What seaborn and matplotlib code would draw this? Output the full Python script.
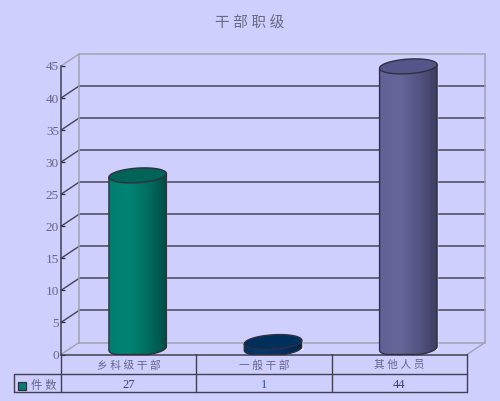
import matplotlib
matplotlib.use('Agg')
import matplotlib.pyplot as plt
import matplotlib.transforms as mtrans
from matplotlib.colors import LinearSegmentedColormap
from matplotlib.lines import Line2D
from matplotlib.patches import PathPatch, Polygon, Rectangle
from matplotlib.path import Path
import numpy as np
import seaborn as sns

# data
title = '干 部 职 级'
categories = ['乡 科 级 干 部', '一 般 干 部', '其 他 人 员']
values = [27, 1, 44]
series_name = '件 数'
y_ticks = [0, 5, 10, 15, 20, 25, 30, 35, 40, 45]

# colours
bg = '#CECEFF'
text_c = '#66668A'
dark = '#30303F'
wall = '#A2A2AE'
bar_base = ['#007F70', '#003366', '#62629A']
bar_light = ['#008474', '#003A70', '#666698']
bar_mid = ['#006E62', '#002F5E', '#555585']
bar_dark = ['#004D45', '#00254C', '#3D3D5E']
bar_top = ['#006358', '#002F5C', '#55558A']

W, H = 500, 401
sns.set_theme(style='white')
plt.rcParams['font.family'] = ['Liberation Serif', 'Noto Sans CJK SC']

fig = plt.figure(figsize=(W / 100, H / 100), dpi=100, facecolor=bg)
ax = fig.add_axes([61 / W, (H - 354.5) / H, 406 / W, 288.5 / H], facecolor='none')

sns.barplot(x=categories, y=values, hue=categories, palette=bar_base,
            width=0.425, legend=False, dodge=False, ax=ax)
ax.set_xlim(-0.5, 2.5)
ax.set_ylim(0, 45)

# 3d depth of the box, in pixels
depth_x, depth_y = 18, 12
back = ax.transData + mtrans.Affine2D().translate(depth_x, depth_y)
mid = ax.transData + mtrans.Affine2D().translate(depth_x / 2, depth_y / 2)
unit_y = 288.5 / 45
unit_x = depth_x / (406 / 3)

# walls and grid
for v in y_ticks:
    c = wall if v in (0, 45) else '#454555'
    ax.plot([-0.5, 2.5], [v, v], color=c, lw=1.1, transform=back, clip_on=False, zorder=0.5)
    # left wall diagonal
    ax.plot([-0.5, -0.5 + unit_x], [v, v + depth_y / unit_y], color=c, lw=1.0,
            clip_on=False, zorder=0.5)
for x in (-0.5, 2.5):
    ax.plot([x, x], [0, 45], color=wall, lw=1.1, transform=back, clip_on=False, zorder=0.5)
ax.plot([2.5, 2.5 + unit_x], [0, depth_y / unit_y], color=wall, lw=1.0, clip_on=False, zorder=0.5)

# cylinders from the bars seaborn drew
ell_a = 7.3 / unit_y
ell_s = 1.8 / unit_y
floor = -(depth_y / 2) / unit_y
t_low = np.linspace(np.pi, 2 * np.pi, 40)
t_all = np.linspace(0, 2 * np.pi, 80)
for i, bar in enumerate(ax.patches[:len(values)]):
    x0, w, h = bar.get_x(), bar.get_width(), bar.get_height()
    xc = x0 + w / 2
    bar.set_transform(mid)
    bar.set_zorder(3)
    bar.set_clip_on(False)
    arc_x = xc + w / 2 * np.cos(t_low)
    arc_y = np.maximum(ell_a * np.sin(t_low) + ell_s * np.cos(t_low), floor)
    verts = np.vstack([[x0, h - ell_s], np.column_stack([arc_x, arc_y]),
                       [x0 + w, h + ell_s], [x0, h - ell_s]])
    body = Path(verts)

    cmap = LinearSegmentedColormap.from_list(
        'c', [bar_base[i], bar_light[i], bar_mid[i], bar_dark[i]])
    img = ax.imshow(np.linspace(0, 1, 64).reshape(1, -1), cmap=cmap, aspect='auto',
                    extent=(x0, x0 + w, floor, h + 2 * ell_a), transform=mid, zorder=3.1)
    img.set_clip_path(PathPatch(body, transform=mid))
    ax.add_patch(PathPatch(body, fc='none', ec=dark, lw=1.0, transform=mid,
                           zorder=3.2, clip_on=False))
    top = np.column_stack([xc + w / 2 * np.cos(t_all),
                           h + ell_a * np.sin(t_all) + ell_s * np.cos(t_all)])
    ax.add_patch(Polygon(top, closed=True, fc=bar_top[i], ec=dark, lw=1.0,
                         transform=mid, zorder=3.3, clip_on=False))
ax.set_xlim(-0.5, 2.5)
ax.set_ylim(0, 45)

# axes
sns.despine(ax=ax, top=True, right=True)
for s in ('left', 'bottom'):
    ax.spines[s].set_color('#40404F')
    ax.spines[s].set_linewidth(1.1)
ax.set_yticks(y_ticks)
ax.tick_params(axis='y', direction='in', length=3, width=0.9, color=dark, left=True,
               labelsize=9.5, labelcolor=text_c, pad=1.5)
ax.set_xticks(range(len(categories)))
ax.set_xticklabels(categories, fontsize=7.7, color=text_c)
ax.tick_params(axis='x', length=0, pad=4)
ax.set_xlabel('')
ax.set_ylabel('')

# data table below the axis, pixels counted from the top left
px = mtrans.Affine2D().scale(1, -1).translate(0, H)
row_tr = mtrans.blended_transform_factory(ax.transData, px)
table_lines = [
    ([61, 467], [374, 374]), ([14, 467], [392, 392]), ([14, 61], [374, 374]),
    ([14, 14], [374, 392]), ([61, 61], [354, 392]), ([467, 467], [354, 392]),
    ([196, 196], [354, 392]), ([332, 332], [354, 392]),
]
for xs, ys in table_lines:
    fig.add_artist(Line2D(xs, ys, color='#40404F', lw=1.0, transform=px))
fig.add_artist(Rectangle((18, 382), 8, 8, fc=bar_base[0], ec=dark, lw=0.9, transform=px))
fig.text(31, 385.5, series_name, fontsize=8.2, color=text_c, va='center', ha='left', transform=px)
for i, v in enumerate(values):
    ax.text(i, 385, str(v), fontsize=9, color='#40406A' if v != 1 else '#3050A0',
            ha='center', va='center', transform=row_tr, clip_on=False)

fig.text(250, 23, title, fontsize=10.5, color='#6A6A80', ha='center', va='center', transform=px)

fig.savefig('out.png', dpi=100, facecolor=bg)
